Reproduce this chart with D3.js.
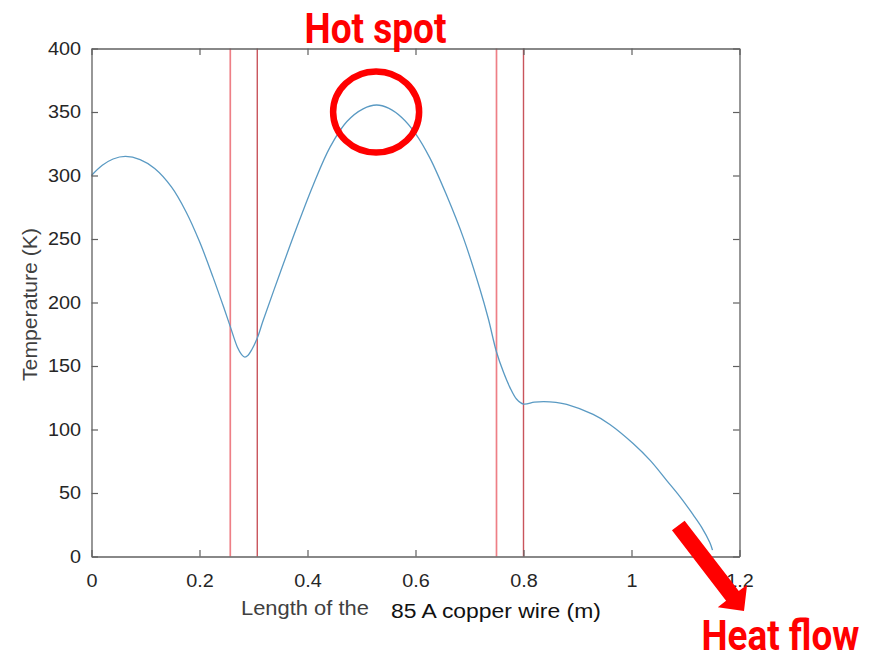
<!DOCTYPE html>
<html>
<head>
<meta charset="utf-8">
<script src="https://cdn.jsdelivr.net/npm/d3@7"></script>
<style>
  html, body { margin: 0; padding: 0; background: #fff; }
  svg { display: block; }
  .tick text { font-family: "Liberation Sans", Arial, sans-serif; font-size: 18px; fill: #262626; }
</style>
</head>
<body>
<svg id="chart" width="876" height="660"></svg>
<script>
// Wire temperature profile along the conductor
const positions = [0, 0.02, 0.04, 0.063, 0.09, 0.117, 0.148, 0.175, 0.2, 0.225, 0.245, 0.257, 0.27, 0.278,
  0.284, 0.29, 0.297, 0.307, 0.318, 0.349, 0.38, 0.411, 0.442, 0.473, 0.503, 0.528, 0.55, 0.575, 0.6,
  0.627, 0.658, 0.689, 0.719, 0.735, 0.75, 0.763, 0.775, 0.787, 0.8, 0.82, 0.837, 0.86, 0.88, 0.929,
  0.96, 1.003, 1.035, 1.065, 1.09, 1.114, 1.13, 1.145, 1.15];
const temperatures = [300, 308, 313, 315, 312.5, 305.5, 291, 271.5, 248, 220, 196, 181, 165, 159,
  157, 158.5, 163, 172, 186, 223, 259, 293, 322.5, 342.5, 352.5, 355.5, 353, 345.5, 333,
  313.5, 284, 250.5, 211, 187, 161, 145, 133, 124, 120, 121.5, 122, 121.4, 119.8, 111.9,
  104, 89, 75.5, 60, 47, 33, 23, 11, 5];

// Boundaries of the wire sections
const sectionBounds = [0.257, 0.307, 0.75, 0.8];

const xTicks = [0, 0.2, 0.4, 0.6, 0.8, 1, 1.2];
const xTickLabels = ["0", "0.2", "0.4", "0.6", "0.8", "1", "1.2"];
const yTicks = [0, 50, 100, 150, 200, 250, 300, 350, 400];
const yTickLabels = ["0", "50", "100", "150", "200", "250", "300", "350", "400"];

const svg = d3.select("#chart");
const plot = { left: 91.5, right: 739.5, top: 48.5, bottom: 556.5 };

const x = d3.scaleLinear().domain([0, 1.2]).range([plot.left, plot.right]);
const y = d3.scaleLinear().domain([0, 400]).range([plot.bottom, plot.top]);

// Section boundaries
svg.append("g").selectAll("line")
  .data(sectionBounds)
  .join("line")
  .attr("x1", d => x(d)).attr("x2", d => x(d))
  .attr("y1", plot.top).attr("y2", plot.bottom)
  .attr("stroke", (d, i) => i % 2 === 0 ? "#ee7f86" : "#c9545c")
  .attr("stroke-width", (d, i) => i % 2 === 0 ? 1.7 : 1.4);

// Temperature curve
const pts = positions.map((p, i) => [p, temperatures[i]]);
svg.append("path")
  .datum(pts)
  .attr("fill", "none")
  .attr("stroke", "#5a9ac3")
  .attr("stroke-width", 1.3)
  .attr("d", d3.line().x(d => x(d[0])).y(d => y(d[1])).curve(d3.curveCatmullRom.alpha(0.5)));

// Axes: boxed, ticks pointing inward on every side
const tickLen = 6.5;
const axisColor = "#606060";
function styleAxis(g) {
  g.select(".domain").attr("stroke", axisColor).attr("stroke-width", 1.3);
  g.selectAll(".tick line").attr("stroke", axisColor).attr("stroke-width", 1.2);
}
function stretchLabels(g) {
  g.selectAll(".tick text").each(function () {
    const len = this.getComputedTextLength();
    d3.select(this).attr("textLength", len * 1.1).attr("lengthAdjust", "spacingAndGlyphs");
  });
}

svg.append("g")
  .attr("transform", `translate(0,${plot.bottom})`)
  .call(d3.axisBottom(x).tickValues(xTicks).tickFormat((d, i) => xTickLabels[i])
    .tickSizeInner(-tickLen).tickSizeOuter(0).tickPadding(17.6))
  .call(styleAxis).call(stretchLabels);

svg.append("g")
  .attr("transform", `translate(${plot.left},0)`)
  .call(d3.axisLeft(y).tickValues(yTicks).tickFormat((d, i) => yTickLabels[i])
    .tickSizeInner(-tickLen).tickSizeOuter(0).tickPadding(10.5))
  .call(styleAxis).call(stretchLabels);

svg.append("g")
  .attr("transform", `translate(0,${plot.top})`)
  .call(d3.axisTop(x).tickValues(xTicks).tickFormat("").tickSizeInner(-tickLen).tickSizeOuter(0))
  .call(styleAxis);

svg.append("g")
  .attr("transform", `translate(${plot.right},0)`)
  .call(d3.axisRight(y).tickValues(yTicks).tickFormat("").tickSizeInner(-tickLen).tickSizeOuter(0))
  .call(styleAxis);

// Text fitted to a given width: the font is sized to the width, then stretched back to full height
function fittedText(tx, ty, width, str, size, attrs) {
  const t = svg.append("text").attr("x", 0).attr("y", 0).attr("font-size", size).text(str);
  Object.entries(attrs).forEach(([k, v]) => t.attr(k, v));
  const r = width / t.node().getComputedTextLength();
  t.attr("font-size", size * r)
   .attr("transform", `translate(${tx},${ty}) scale(1,${1 / r})`);
  return t;
}

// Axis titles
const labelFont = { "font-family": "Liberation Sans, Arial, sans-serif" };
fittedText(241, 614.5, 128, "Length of the", 19.5, { ...labelFont, fill: "#404040" });
fittedText(391, 618, 210, "85 A copper wire (m)", 19.5, { ...labelFont, fill: "#111" });

svg.append("text")
  .attr("transform", "translate(37,304.5) rotate(-90)")
  .attr("text-anchor", "middle")
  .attr("font-family", "Liberation Sans, Arial, sans-serif")
  .attr("font-size", 19.5).attr("fill", "#404040")
  .attr("textLength", 153).attr("lengthAdjust", "spacingAndGlyphs")
  .text("Temperature (K)");

// Hot spot annotation around the curve maximum
const peakIdx = d3.maxIndex(temperatures);
svg.append("ellipse")
  .attr("cx", x(positions[peakIdx]) - 0.5)
  .attr("cy", y(temperatures[peakIdx]) + 7)
  .attr("rx", 43).attr("ry", 40.5)
  .attr("fill", "none").attr("stroke", "#ff0000").attr("stroke-width", 6.5);

const calloutFont = { "font-family": "Roboto, sans-serif", "font-weight": 700, fill: "#ff0000" };
fittedText(304.5, 42.7, 142, "Hot spot", 43, calloutFont);

// Heat flow arrow
const start = [678.3, 525.5], tip = [744, 611];
const len = Math.hypot(tip[0] - start[0], tip[1] - start[1]);
const u = [(tip[0] - start[0]) / len, (tip[1] - start[1]) / len];
const n = [u[1], -u[0]];
const shaftHalf = 8, headHalf = 18.5, headLen = 19;
const base = [tip[0] - headLen * u[0], tip[1] - headLen * u[1]];
const arrowPts = [
  [start[0] + shaftHalf * n[0], start[1] + shaftHalf * n[1]],
  [base[0] + shaftHalf * n[0], base[1] + shaftHalf * n[1]],
  [base[0] + headHalf * n[0], base[1] + headHalf * n[1]],
  tip,
  [base[0] - headHalf * n[0], base[1] - headHalf * n[1]],
  [base[0] - shaftHalf * n[0], base[1] - shaftHalf * n[1]],
  [start[0] - shaftHalf * n[0], start[1] - shaftHalf * n[1]]
];
svg.append("path")
  .attr("d", d3.line()(arrowPts) + "Z")
  .attr("fill", "#ff0000");

fittedText(701.5, 650, 158, "Heat flow", 42, calloutFont);
</script>
</body>
</html>
